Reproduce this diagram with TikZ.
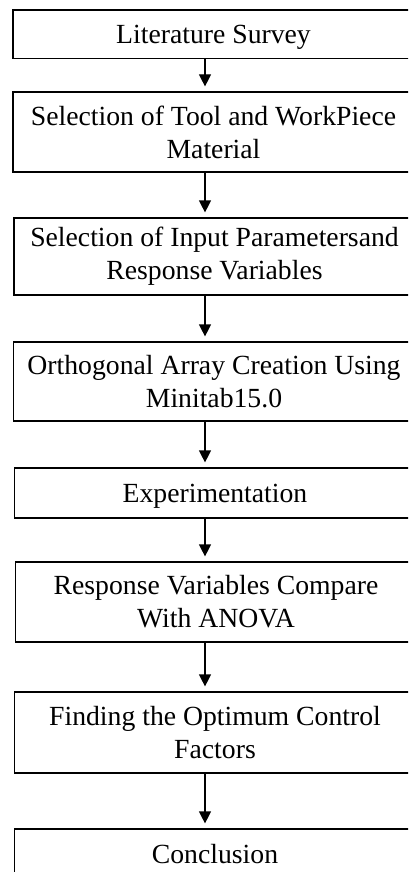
\documentclass[tikz,border=0pt]{standalone}
\usepackage{fontspec}
\setmainfont{Liberation Serif}
\usetikzlibrary{arrows.meta,positioning}

\begin{document}
\begin{tikzpicture}[x=1pt,y=-1pt,
  stepbox/.style={draw,line width=1.2pt,minimum width=401pt,inner sep=0pt,align=center,
    font=\fontsize{27.7}{33}\selectfont},
  flow/.style={-{Triangle[length=12pt,width=12pt]},line width=1.2pt,shorten >=5pt}]
\useasboundingbox (0,0) rectangle (408,872);
\clip (0,0) rectangle (408,872);
\coordinate (ax) at (205,0);

% process steps
\node (s1) at (213.5,34.2) [stepbox,minimum height=48.5pt,text depth=0pt] {Literature Survey};
\node (s2) at (213.5,132) [stepbox,minimum height=80pt] {Selection of Tool and WorkPiece\\Material};
\node (s3) at (214.5,256.5) [stepbox,minimum height=77pt] {Selection of Input Parametersand\\Response Variables};
\node (s4) at (214,381.5) [stepbox,minimum height=79pt] {Orthogonal Array Creation Using\\Minitab15.0};
\node (s5) at (215,493) [stepbox,minimum height=50pt,text depth=0pt] {Experimentation};
\node (s6) at (216,602) [stepbox,minimum height=80pt] {Response Variables Compare\\With ANOVA};
\node (s7) at (215,732.5) [stepbox,minimum height=81pt] {Finding the Optimum Control\\Factors};
\node (s8) at (215,854) [stepbox,minimum height=50pt,text depth=0pt] {Conclusion};

\foreach \i [count=\j from 2] in {1,...,7} {
\draw[flow] (s\i.south -| ax) -- (s\j.north -| ax);
}
\end{tikzpicture}
\end{document}
